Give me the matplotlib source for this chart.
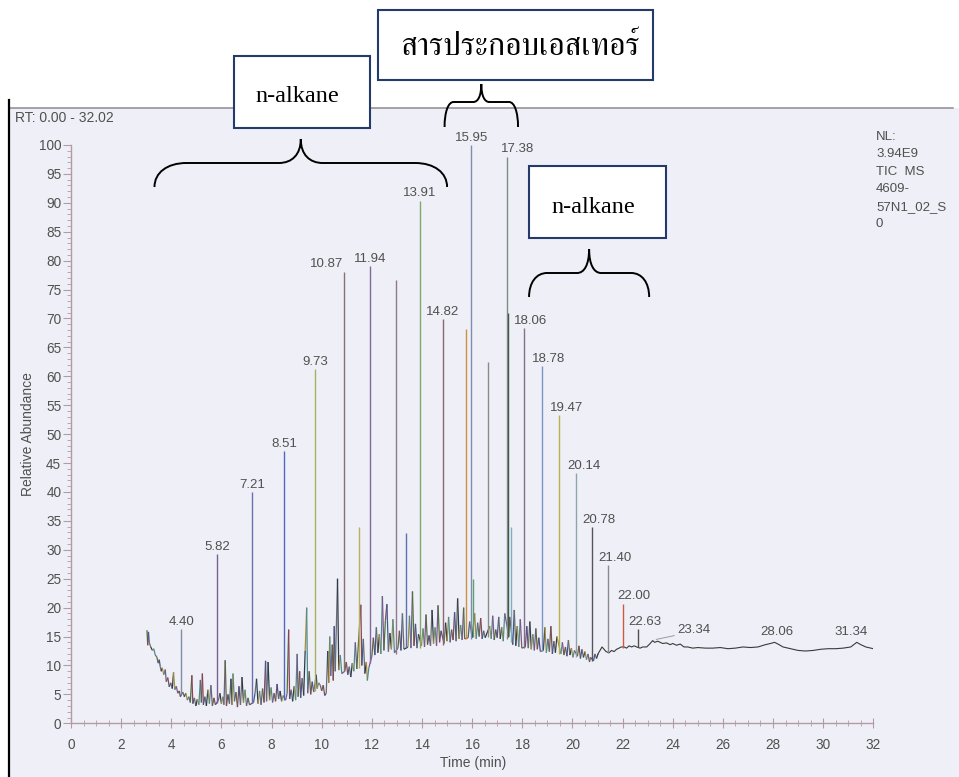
import matplotlib
matplotlib.use("Agg")
import numpy as np
import matplotlib.pyplot as plt
import matplotlib.ticker as ticker
from matplotlib.collections import LineCollection
from matplotlib.patches import Rectangle, PathPatch
from matplotlib.path import Path
from matplotlib.lines import Line2D

W, H = 959, 777

# labelled peaks: retention time (min), top and foot (relative abundance)
peak_rt = [4.40, 5.82, 7.21, 8.51, 9.73, 10.87, 11.94, 13.91, 14.82, 15.95,
           17.38, 18.06, 18.78, 19.47, 20.14, 20.78, 21.40, 22.00, 22.63]
peak_h = [16.3, 29.3, 40.0, 47.1, 61.2, 78.1, 79.1, 90.4, 69.9, 100.0,
          98.0, 68.3, 61.7, 53.3, 43.3, 34.0, 27.4, 20.7, 16.3]
peak_foot = [5.0, 3.5, 3.5, 4.0, 5.5, 9.0, 10.5, 13.0, 13.5, 14.5,
             14.5, 13.0, 12.5, 12.0, 11.5, 10.8, 12.2, 13.0, 13.2]

# peaks without a label
extra_rt = [11.50, 12.95, 13.37, 15.76, 16.05, 16.62, 17.44, 17.55]
extra_h = [34.0, 76.7, 32.9, 68.2, 25.0, 62.5, 71.0, 34.0]
extra_foot = [9.5, 12.0, 13.0, 14.5, 15.0, 15.0, 15.0, 14.0]

# small labelled bumps on the flat tail
tail_rt = [23.34, 28.06, 31.34]
tail_h = [14.2, 14.0, 14.0]

# noisy baseline trace (rt, abundance)
trace = [
    (3.03, 16.1), (3.06, 13.5), (3.09, 15.8), (3.12, 14.0), (3.18, 13.2), (3.25, 12.6),
    (3.30, 12.9), (3.36, 11.8), (3.42, 11.5), (3.48, 10.4), (3.52, 11.0), (3.56, 9.8),
    (3.60, 9.0), (3.64, 9.6), (3.70, 8.4), (3.76, 9.3), (3.80, 7.2), (3.86, 7.9),
    (3.92, 6.3), (3.98, 7.0), (4.04, 6.0), (4.09, 8.8), (4.14, 5.8), (4.20, 6.4),
    (4.26, 5.2), (4.32, 5.6), (4.36, 4.6), (4.46, 5.4), (4.52, 4.6), (4.58, 5.2),
    (4.64, 4.0), (4.70, 4.6), (4.76, 3.6), (4.82, 8.3), (4.86, 3.4), (4.92, 4.4),
    (4.98, 3.0), (5.04, 4.2), (5.10, 3.2), (5.16, 7.5), (5.20, 3.6), (5.24, 8.6),
    (5.28, 3.2), (5.34, 4.6), (5.40, 3.0), (5.46, 5.8), (5.52, 3.4), (5.58, 6.6),
    (5.64, 3.0), (5.70, 4.4), (5.76, 3.2), (5.88, 4.0), (5.94, 5.2), (6.00, 3.4),
    (6.06, 4.6), (6.10, 3.2), (6.15, 10.9), (6.20, 3.0), (6.26, 5.0), (6.32, 3.4),
    (6.38, 7.7), (6.42, 3.2), (6.46, 8.6), (6.52, 3.8), (6.58, 5.4), (6.64, 2.8),
    (6.70, 6.4), (6.76, 3.2), (6.82, 8.0), (6.88, 3.6), (6.94, 5.8), (7.00, 3.0),
    (7.06, 4.4), (7.12, 3.2), (7.28, 3.6), (7.34, 5.2), (7.40, 7.7), (7.46, 3.4),
    (7.52, 5.6), (7.58, 3.2), (7.64, 6.0), (7.70, 3.6), (7.76, 10.8), (7.80, 3.8),
    (7.86, 10.6), (7.92, 4.0), (7.98, 6.2), (8.04, 3.6), (8.10, 5.2), (8.16, 3.8),
    (8.22, 6.8), (8.28, 4.2), (8.34, 5.6), (8.40, 3.8), (8.46, 4.8), (8.56, 4.0),
    (8.62, 5.2), (8.68, 16.2), (8.72, 4.2), (8.78, 5.8), (8.84, 3.8), (8.90, 6.4),
    (8.96, 4.0), (9.02, 12.0), (9.06, 4.6), (9.12, 9.0), (9.16, 4.4), (9.22, 7.8),
    (9.28, 4.8), (9.34, 12.6), (9.40, 20.0), (9.44, 5.2), (9.50, 9.0), (9.56, 5.0),
    (9.62, 7.2), (9.68, 5.4), (9.78, 8.4), (9.82, 6.0), (9.88, 7.0), (9.94, 6.6),
    (10.00, 5.6), (10.06, 6.6), (10.12, 4.8), (10.18, 5.2), (10.24, 12.5), (10.28, 7.0),
    (10.32, 15.0), (10.36, 8.2), (10.42, 13.6), (10.46, 7.4), (10.50, 16.8), (10.54, 9.0),
    (10.63, 25.0), (10.68, 9.2), (10.74, 11.8), (10.80, 8.6), (10.92, 9.0), (10.98, 10.6),
    (11.04, 8.4), (11.10, 9.8), (11.16, 8.0), (11.22, 10.4), (11.28, 9.0), (11.34, 14.0),
    (11.40, 9.4), (11.56, 20.5), (11.60, 10.0), (11.66, 14.6), (11.72, 8.6), (11.78, 10.6),
    (11.82, 7.4), (11.88, 9.6), (12.00, 11.6), (12.06, 14.8), (12.12, 11.8), (12.18, 16.6),
    (12.24, 12.2), (12.30, 15.4), (12.36, 12.0), (12.42, 22.0), (12.48, 12.6), (12.54, 17.8),
    (12.60, 20.6), (12.66, 12.4), (12.72, 15.6), (12.78, 12.8), (12.84, 18.0), (12.90, 12.2),
    (13.04, 13.0), (13.10, 16.0), (13.16, 12.6), (13.22, 19.0), (13.28, 12.8), (13.44, 13.2),
    (13.50, 18.6), (13.56, 13.0), (13.62, 22.8), (13.68, 13.4), (13.74, 17.2), (13.80, 13.0),
    (13.86, 15.4), (13.98, 13.4), (14.04, 16.4), (14.10, 13.2), (14.16, 18.8), (14.22, 13.6),
    (14.28, 15.2), (14.34, 13.4), (14.40, 19.6), (14.46, 13.8), (14.52, 16.6), (14.58, 13.4),
    (14.64, 20.4), (14.70, 14.0), (14.76, 16.0), (14.88, 13.8), (14.94, 17.4), (15.00, 14.2),
    (15.06, 18.4), (15.12, 14.0), (15.18, 16.2), (15.24, 14.4), (15.30, 19.2), (15.36, 14.2),
    (15.42, 21.6), (15.48, 14.6), (15.54, 17.0), (15.60, 14.4), (15.66, 20.0), (15.70, 14.6),
    (15.84, 14.8), (15.90, 17.6), (16.00, 14.8), (16.10, 19.0), (16.16, 14.6), (16.22, 17.4),
    (16.28, 15.0), (16.34, 18.2), (16.40, 14.6), (16.46, 16.0), (16.52, 14.8), (16.70, 16.8),
    (16.76, 14.6), (16.82, 18.6), (16.88, 14.4), (16.94, 16.2), (17.00, 14.8), (17.06, 18.4),
    (17.12, 14.6), (17.18, 16.6), (17.24, 14.2), (17.30, 19.0), (17.46, 15.0), (17.50, 18.4),
    (17.62, 13.6), (17.68, 19.6), (17.74, 13.4), (17.80, 16.8), (17.86, 13.2), (17.92, 18.0),
    (17.98, 13.0), (18.12, 13.2), (18.18, 16.8), (18.24, 13.0), (18.30, 17.6), (18.36, 12.8),
    (18.42, 15.4), (18.48, 12.6), (18.54, 16.4), (18.60, 12.8), (18.66, 14.8), (18.72, 12.4),
    (18.84, 12.6), (18.90, 16.6), (18.96, 12.2), (19.02, 14.6), (19.08, 12.4), (19.14, 16.8),
    (19.20, 12.0), (19.26, 14.2), (19.32, 12.2), (19.38, 15.0), (19.54, 12.0), (19.60, 14.0),
    (19.66, 11.8), (19.72, 13.2), (19.78, 11.6), (19.84, 14.4), (19.90, 11.8), (19.96, 13.0),
    (20.02, 11.4), (20.08, 12.6), (20.20, 11.6), (20.26, 13.4), (20.32, 11.2), (20.38, 12.8),
    (20.44, 11.4), (20.50, 12.4), (20.56, 11.0), (20.62, 12.0), (20.68, 10.6), (20.72, 11.4),
    (20.84, 10.8), (20.90, 12.0), (20.96, 11.2), (21.02, 12.0),
]
tail_trace = [
    (21.02, 12.0), (21.10, 12.6), (21.18, 13.2), (21.26, 12.8), (21.34, 12.4), (21.46, 12.2),
    (21.56, 12.6), (21.66, 12.4), (21.76, 12.8), (21.86, 13.0), (21.94, 13.2), (22.06, 13.2),
    (22.16, 13.0), (22.26, 13.4), (22.36, 13.2), (22.46, 13.4), (22.56, 13.2), (22.70, 13.0),
    (22.80, 13.2), (22.96, 13.2), (23.10, 13.8), (23.20, 14.3), (23.28, 14.0), (23.40, 14.2),
    (23.50, 14.0), (23.60, 13.8), (23.75, 13.9), (23.90, 13.6), (24.00, 13.8), (24.15, 13.5),
    (24.30, 13.7), (24.45, 13.2), (24.60, 13.2), (24.80, 13.0), (25.00, 13.1), (25.30, 13.0),
    (25.60, 13.0), (25.90, 13.1), (26.20, 12.9), (26.50, 13.0), (26.80, 13.2), (27.10, 13.1),
    (27.40, 13.2), (27.70, 13.6), (27.90, 13.8), (28.06, 14.0), (28.20, 13.7), (28.40, 13.2),
    (28.70, 12.9), (29.00, 12.6), (29.30, 12.5), (29.60, 12.6), (29.90, 12.8), (30.20, 12.9),
    (30.50, 12.9), (30.80, 13.0), (31.10, 13.2), (31.34, 14.0), (31.50, 13.6), (31.70, 13.2),
    (32.00, 12.9),
]

# label x offsets (points) for the peak labels, as placed by the data system
label_dx = [0, 0, 0, 0, 0, -12, 0, 0, 0, 0.5, 8, 5, 5, 5, 6, 5, 5, 8, 5]
tail_dx = [27, 1.5, -4]

peak_colors = ['#7f8fa6', '#7a5f93', '#6a6fb0', '#5068c0', '#a8b060', '#8b6f78',
               '#7f6a9c', '#7fa86a', '#8a6672', '#7d8cb0', '#7a8c84', '#84708a',
               '#7c92c4', '#b8b050', '#8fa4a8', '#555560', '#8a8a90', '#d05a40', '#505050']
extra_colors = ['#b8b060', '#8c7a90', '#5a70b0', '#d09040', '#5aa070', '#8a8a8a', '#3a4a3a', '#7ab0c0']
noise_palette = ['#4f6f3c', '#8a4458', '#3c5a8c', '#6c6c6c', '#2c3a4a', '#a88c3c', '#4a8c8c', '#7a568c']

sans = 'Liberation Sans'
txt_col = '#505050'
axis_col = '#b49aa4'

fig = plt.figure(figsize=(W / 100, H / 100), dpi=100)
fig.patch.set_facecolor('white')

# scanned frame of the original printout
fig.add_artist(Rectangle((9 / W, 0), 1, (H - 108) / H, transform=fig.transFigure,
                         fc='#eff0f7', ec='none', zorder=0))
fig.add_artist(Line2D([10 / W, 953 / W], [1 - 108 / H] * 2, color='#8c8c8c', lw=1.1))
fig.add_artist(Line2D([8.5 / W] * 2, [0, 1 - 100 / H], color='black', lw=1.6))

ax = fig.add_axes([71 / W, (H - 723.3) / H, (873.3 - 71) / W, (723.3 - 145) / H])
ax.set_facecolor('none')
ax.set_xlim(0, 32)
ax.set_ylim(0, 100)

# noisy part of the trace, multicoloured like the scanned printout
pts = np.array(trace)
segs = np.stack([pts[:-1], pts[1:]], axis=1)
cols = [noise_palette[i % len(noise_palette)] for i in range(len(segs))]
ax.add_collection(LineCollection(segs, colors=cols, linewidths=0.9, zorder=2))
tpts = np.array(tail_trace)
ax.plot(tpts[:, 0], tpts[:, 1], color='#3a3a3a', lw=0.8, zorder=2)

# peaks
ax.vlines(extra_rt, extra_foot, extra_h, colors=extra_colors, lw=1.0, zorder=3)
ax.vlines(peak_rt, peak_foot, peak_h, colors=peak_colors, lw=1.0, zorder=3, clip_on=False)

# peak labels
for rt, h, dx in zip(peak_rt, peak_h, label_dx):
    ax.annotate('%.2f' % rt, xy=(rt, h), xytext=(dx, 3), textcoords='offset points',
                ha='center', va='baseline', fontsize=9.5, family=sans, color=txt_col,
                annotation_clip=False)
for rt, h, dx in zip(tail_rt, tail_h, tail_dx):
    if dx > 20:
        ax.annotate('%.2f' % rt, xy=(rt, h + 0.3), xytext=(dx, 4.5), textcoords='offset points',
                    ha='center', va='baseline', fontsize=9.5, family=sans, color=txt_col,
                    arrowprops=dict(arrowstyle='-', color='#9a9a9a', lw=0.7,
                                    shrinkA=0, shrinkB=0, relpos=(0, 0.1)))
    else:
        ax.annotate('%.2f' % rt, xy=(rt, h), xytext=(dx, 5), textcoords='offset points',
                    ha='center', va='baseline', fontsize=9.5, family=sans, color=txt_col)

# axes styling
for s in ['top', 'right']:
    ax.spines[s].set_visible(False)
for s in ['left', 'bottom']:
    ax.spines[s].set_color(axis_col)
    ax.spines[s].set_linewidth(1.0)
ax.xaxis.set_major_locator(ticker.MultipleLocator(2))
ax.xaxis.set_minor_locator(ticker.MultipleLocator(0.5))
ax.yaxis.set_major_locator(ticker.MultipleLocator(5))
ax.yaxis.set_minor_locator(ticker.MultipleLocator(1))
ax.tick_params(axis='y', which='major', direction='out', length=6, width=0.8, color=axis_col,
               pad=1, labelsize=9.8, labelcolor=txt_col)
ax.tick_params(axis='y', which='minor', direction='out', length=3, width=0.6, color=axis_col)
ax.tick_params(axis='x', which='major', direction='inout', length=7, width=0.8, color=axis_col,
               pad=7, labelsize=9.8, labelcolor=txt_col)
ax.tick_params(axis='x', which='minor', direction='inout', length=5, width=0.6, color=axis_col)
for lab in ax.get_xticklabels() + ax.get_yticklabels():
    lab.set_family(sans)

fig.text(28 / W, 1 - 434 / H, 'Relative Abundance', rotation=90, ha='center', va='center',
         fontsize=10, family=sans, color=txt_col)
fig.text(473.5 / W, 1 - 763 / H, 'Time (min)', ha='center', va='center',
         fontsize=10, family=sans, color=txt_col)
fig.text(15 / W, 1 - 118 / H, 'RT: 0.00 - 32.02', ha='left', va='center',
         fontsize=10, family=sans, color=txt_col)
fig.text(876 / W, 1 - 131 / H, 'NL:\n3.94E9\nTIC  MS\n4609-\n57N1_02_S\n0', ha='left', va='top',
         fontsize=9.5, family=sans, color=txt_col, linespacing=1.6)


def brace(x0, x1, y_tip, y_mid, y_cusp, r_end, r_cusp):
    # x0/x1 in data units, y values in pixels from the top of the figure
    p0 = ax.transData.transform((x0, 0))[0]
    p1 = ax.transData.transform((x1, 0))[0]
    pc = (p0 + p1) / 2
    t, m, c = H - y_tip, H - y_mid, H - y_cusp
    verts = [(p0, t), (p0, t + (m - t) * 0.6), (p0 + r_end * 0.4, m), (p0 + r_end, m),
             (pc - r_cusp, m),
             (pc - r_cusp * 0.4, m), (pc, m + (c - m) * 0.35), (pc, c),
             (pc, m + (c - m) * 0.35), (pc + r_cusp * 0.4, m), (pc + r_cusp, m),
             (p1 - r_end, m),
             (p1 - r_end * 0.4, m), (p1, t + (m - t) * 0.6), (p1, t)]
    codes = [Path.MOVETO, Path.CURVE4, Path.CURVE4, Path.CURVE4, Path.LINETO,
             Path.CURVE4, Path.CURVE4, Path.CURVE4,
             Path.CURVE4, Path.CURVE4, Path.CURVE4, Path.LINETO,
             Path.CURVE4, Path.CURVE4, Path.CURVE4]
    verts = [(x / W, y / H) for x, y in verts]
    fig.add_artist(PathPatch(Path(verts, codes), transform=fig.transFigure,
                             fill=False, lw=1.4, ec='black', zorder=5))


def box(left, top, right, bottom):
    fig.add_artist(Rectangle((left / W, 1 - bottom / H), (right - left) / W, (bottom - top) / H,
                             transform=fig.transFigure, fc='white', ec='#243a6c', lw=1.5, zorder=6))


brace(3.33, 15.0, 187, 163, 139, 32, 22)
brace(14.9, 17.83, 127, 102, 84, 9, 8)
brace(18.27, 23.06, 297, 273, 249, 18, 12)

box(234, 56, 370, 128)
fig.text(297.5 / W, 1 - 102 / H, 'n-alkane', ha='center', va='baseline', fontsize=17.5,
         family='Liberation Serif', color='black', zorder=7)
box(378, 10, 653, 80)
fig.text(520 / W, 1 - 47 / H, 'สารประกอบเอสเทอร์', ha='center', va='center', fontsize=23,
         family=['Kinnari', 'Norasi', 'FreeSerif', 'Loma', 'DejaVu Sans'], color='black', zorder=7)
box(529, 166, 666, 238)
fig.text(593 / W, 1 - 213 / H, 'n-alkane', ha='center', va='baseline', fontsize=17.5,
         family='Liberation Serif', color='black', zorder=7)

fig.savefig('out.png', dpi=100, facecolor=fig.get_facecolor())
